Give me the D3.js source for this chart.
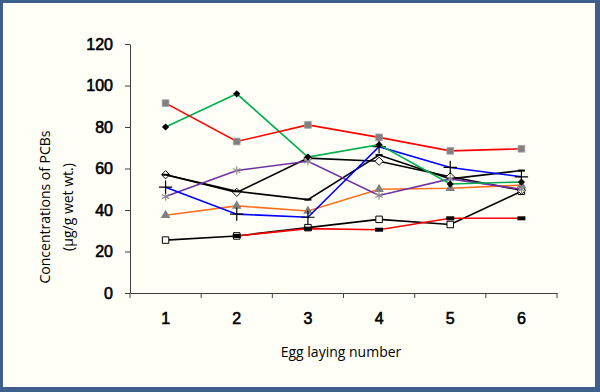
<!DOCTYPE html>
<html lang="en">
  <head>
    <meta charset="utf-8">
    <title>PCBs by egg laying number</title>
    <script type="text/javascript" src="https://d3js.org/d3.v7.min.js"></script>
    <style>
      body { margin: 0; }
    </style>
  </head>
  <body>
    <script type="text/javascript">
    var w = 600;
    var h = 392;

    // data
    var eggs = [1, 2, 3, 4, 5, 6];
    var yTicks = [0, 20, 40, 60, 80, 100, 120];
    var openSquare = [25.5, 27.5, 31.5, 35.5, 33, 49];
    var redLow = [null, 27.5, 31, 30.5, 36, 36];
    var openDiamond = [57, 48.5, 65, 63.5, 56, 49.5];
    var blackDash = [57, 49, 45, 66.5, 55, 59];
    var orange = [37.5, 42, 39.5, 50, 50.5, 52];
    var purple = [46.5, 59, 63.5, 47, 55, 50];
    var blue = [51, 38, 36.5, 70.5, 60.5, 56];
    var green = [80, 96, 65.5, 71.5, 52.5, 53.5];
    var redHigh = [91.5, 73, 81, 75, 68.5, 69.5];

    var series = [
      {values: openSquare, color: "#000", marker: "osquare"},
      {values: redLow, color: "#ff0000", marker: "bar"},
      {values: openDiamond, color: "#000", marker: "odiamond"},
      {values: blackDash, color: "#000", marker: "dash"},
      {values: orange, color: "#ff7020", marker: "triangle"},
      {values: purple, color: "#7030a0", marker: "asterisk"},
      {values: blue, color: "#0000ff", marker: "plus"},
      {values: green, color: "#00b050", marker: "diamond"},
      {values: redHigh, color: "#ff0000", marker: "square"}
    ];

    var svg = d3.select("body").append("svg").attr("width", w).attr("height", h)
      .style("font-family", "Arial, 'Liberation Sans', sans-serif");

    svg.append("rect")
      .attr("x", 1.5).attr("y", 1.5)
      .attr("width", w - 5).attr("height", h - 5)
      .attr("fill", "#fffff8")
      .attr("stroke", "#3e5f8c")
      .attr("stroke-width", 3);
    svg.append("rect").attr("x", w - 4).attr("y", 0).attr("width", 4).attr("height", h).attr("fill", "#3e5f8c");
    svg.append("rect").attr("x", 0).attr("y", h - 4).attr("width", w).attr("height", 4).attr("fill", "#3e5f8c");

    var xscale = d3.scaleBand().domain(eggs).range([130, 557]);
    var yscale = d3.scaleLinear().domain([0, 120]).range([293, 44]);
    var cx = function(i) { return xscale(eggs[i]) + xscale.bandwidth() / 2; };

    // y axis
    var yAxis = d3.axisLeft(yscale).tickValues(yTicks).tickSize(5).tickPadding(12).tickSizeOuter(0);
    var gy = svg.append("g").attr("transform", "translate(130,0)").call(yAxis);
    gy.select(".domain").attr("stroke", "#404040");
    gy.selectAll(".tick line").attr("stroke", "#404040");
    gy.selectAll("text").attr("font-size", 16).attr("fill", "#000")
      .attr("stroke", "#000").attr("stroke-width", 0.6);

    // x axis: labels in the middle, ticks on the band edges
    var xAxis = d3.axisBottom(xscale).tickSize(0).tickPadding(20).tickSizeOuter(0);
    var gx = svg.append("g").attr("transform", "translate(0,293)").call(xAxis);
    gx.select(".domain").attr("stroke", "#404040");
    gx.selectAll("text").attr("font-size", 16).attr("fill", "#000")
      .attr("stroke", "#000").attr("stroke-width", 0.6);
    var edges = eggs.map(function(d) { return xscale(d); }).concat([xscale.range()[1]]);
    gx.selectAll(".edge").data(edges).enter().append("line")
      .attr("x1", function(d) { return d; }).attr("x2", function(d) { return d; })
      .attr("y1", 0).attr("y2", 5)
      .attr("stroke", "#404040");

    svg.append("text")
      .attr("x", 341).attr("y", 357)
      .attr("text-anchor", "middle")
      .attr("font-family", "'Open Sans', sans-serif")
      .attr("font-size", 14)
      .text("Egg laying number");

    var ytitle = svg.append("text")
      .attr("transform", "translate(0,207) rotate(-90)")
      .attr("text-anchor", "middle")
      .attr("font-family", "'Open Sans', sans-serif")
      .attr("font-size", 14);
    ytitle.append("tspan").attr("x", 0).attr("y", 50).text("Concentrations of PCBs");
    ytitle.append("tspan").attr("x", 0).attr("y", 73).text("(\u00b5g/g wet wt.)");

    var line = d3.line()
      .defined(function(d) { return d != null; })
      .x(function(d, i) { return cx(i); })
      .y(function(d) { return yscale(d); });

    series.forEach(function(s) {
      var g = svg.append("g");
      g.append("path")
        .attr("d", line(s.values))
        .attr("fill", "none")
        .attr("stroke", s.color)
        .attr("stroke-width", 1.6);

      var pts = s.values.map(function(v, i) { return {x: cx(i), y: v == null ? null : yscale(v)}; })
        .filter(function(p) { return p.y != null; });
      var m = g.selectAll(".m").data(pts).enter();
      var tr = function(p) { return "translate(" + p.x + "," + p.y + ")"; };

      if (s.marker == "square") {
        m.append("path").attr("transform", tr).attr("d", d3.symbol(d3.symbolSquare, 45)())
          .attr("fill", "#808080").attr("stroke", "#a0a0a0").attr("stroke-width", 0.8);
      } else if (s.marker == "osquare") {
        m.append("path").attr("transform", tr).attr("d", d3.symbol(d3.symbolSquare, 42)())
          .attr("fill", "#fffff8").attr("stroke", "#000").attr("stroke-width", 1);
      } else if (s.marker == "diamond") {
        m.append("path").attr("transform", function(p) { return tr(p) + " rotate(45)"; })
          .attr("d", d3.symbol(d3.symbolSquare, 26)()).attr("fill", "#000");
      } else if (s.marker == "odiamond") {
        m.append("path").attr("transform", function(p) { return tr(p) + " rotate(45)"; })
          .attr("d", d3.symbol(d3.symbolSquare, 34)())
          .attr("fill", "#fffff8").attr("stroke", "#000").attr("stroke-width", 0.9);
      } else if (s.marker == "triangle") {
        m.append("path").attr("transform", tr).attr("d", d3.symbol(d3.symbolTriangle, 40)())
          .attr("fill", "#808080");
      } else if (s.marker == "plus") {
        m.append("path").attr("transform", tr).attr("d", d3.symbol(d3.symbolPlus, 60)())
          .attr("fill", "none").attr("stroke", "#000").attr("stroke-width", 1.2);
      } else if (s.marker == "asterisk") {
        m.append("path").attr("transform", tr).attr("d", d3.symbol(d3.symbolAsterisk, 50)())
          .attr("fill", "none").attr("stroke", "#909090").attr("stroke-width", 1.2);
      } else if (s.marker == "dash") {
        m.append("rect").attr("x", function(p) { return p.x - 3.5; }).attr("y", function(p) { return p.y - 1; })
          .attr("width", 7).attr("height", 2).attr("fill", "#000");
      } else if (s.marker == "bar") {
        m.append("rect").attr("x", function(p) { return p.x - 4; }).attr("y", function(p) { return p.y - 2; })
          .attr("width", 8).attr("height", 4).attr("fill", "#000");
      }
    });
    </script>
  </body>
</html>
